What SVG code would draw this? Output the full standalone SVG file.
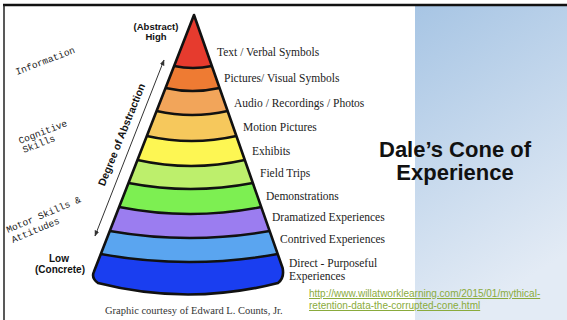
<svg xmlns="http://www.w3.org/2000/svg" width="567" height="320" viewBox="0 0 567 320">
<style>
.lbl{font-family:"Liberation Serif","Times New Roman",serif;font-size:11.5px;fill:#222}
.side{font-family:"Liberation Mono","Courier New",monospace;font-size:9.5px;fill:#222}
.bold{font-family:"Liberation Sans",Arial,sans-serif;font-weight:bold;fill:#111}
.ln{fill:none;stroke:#111;stroke-width:2.4}
.link{font-family:"Liberation Sans",Arial,sans-serif;font-size:10px;fill:#8aab3c;text-decoration:underline}
</style>
<defs>
<linearGradient id="pg" x1="0" y1="0" x2="0.3" y2="1">
<stop offset="0" stop-color="#a7c5e4"/>
<stop offset="1" stop-color="#e3ebf5"/>
</linearGradient>
<clipPath id="cone"><path d="M194,15 L282.6,268 C284,275 282,280 278,283 Q188,306 98,283 C94,280 92,276 93.8,272 Z"/></clipPath>
<marker id="ah" viewBox="0 0 10 10" refX="9" refY="5" markerWidth="6" markerHeight="6" orient="auto-start-reverse">
<path d="M0,1 L10,5 L0,9 Z" fill="#333"/>
</marker>
</defs>
<rect x="0" y="0" width="567" height="320" fill="#fff"/>
<g id="panel">
<rect x="415" y="6" width="152" height="314" fill="url(#pg)"/>
</g>
<g id="frame">
<line x1="3" y1="5" x2="567" y2="5" stroke="#111" stroke-width="2.5"/>
<line x1="4" y1="5" x2="4" y2="320" stroke="#222" stroke-width="1.5"/>
</g>
<g id="cone-bands" clip-path="url(#cone)">
<g id="band-text"><rect x="80" y="10" width="220" height="300" fill="#e63b2e"/></g>
<g id="band-pictures"><path d="M140,66 L174.1,66 Q193,70 211.85,66 L300,66 L300,310 L80,310 L80,66 Z" fill="#ee7b33"/></g>
<g id="band-audio"><path d="M80,88 L165.5,88 Q192.5,94 219.55,88 L300,88 L300,310 L80,310 Z" fill="#f2a55a"/></g>
<g id="band-motion"><path d="M80,111 L156.6,111 Q192.1,119 227.6,111 L300,111 L300,310 L80,310 Z" fill="#f6c85c"/></g>
<g id="band-exhibits"><path d="M80,136 L146.8,136 Q191.6,146 236.35,136 L300,136 L300,310 L80,310 Z" fill="#fdf653"/></g>
<g id="band-field"><path d="M80,160 L137.45,160 Q191.1,172 244.75,160 L300,160 L300,310 L80,310 Z" fill="#bdef6c"/></g>
<g id="band-demo"><path d="M80,183 L128.5,183 Q190.6,195 252.8,183 L300,183 L300,310 L80,310 Z" fill="#7def52"/></g>
<g id="band-dramatized"><path d="M80,207 L119.1,207 Q190.2,221 261.2,207 L300,207 L300,310 L80,310 Z" fill="#9b7df0"/></g>
<g id="band-contrived"><path d="M80,231 L109.8,231 Q189.7,245 269.6,231 L300,231 L300,310 L80,310 Z" fill="#5aa5f0"/></g>
<g id="band-direct"><path d="M80,254 L100.8,254 Q189.2,270 277.65,254 L300,254 L300,310 L80,310 Z" fill="#1a3ef0"/></g>
<path class="ln" d="M174.1,66 Q193,70 211.85,66"/>
<path class="ln" d="M165.5,88 Q192.5,94 219.55,88"/>
<path class="ln" d="M156.6,111 Q192.1,119 227.6,111"/>
<path class="ln" d="M146.8,136 Q191.6,146 236.35,136"/>
<path class="ln" d="M137.45,160 Q191.1,172 244.75,160"/>
<path class="ln" d="M128.5,183 Q190.6,195 252.8,183"/>
<path class="ln" d="M119.1,207 Q190.2,221 261.2,207"/>
<path class="ln" d="M109.8,231 Q189.7,245 269.6,231"/>
<path class="ln" d="M100.8,254 Q189.2,270 277.65,254"/>
</g>
<path id="cone-outline" d="M194,15 L282.6,268 C284,275 282,280 278,283 Q188,306 98,283 C94,280 92,276 93.8,272 Z" fill="none" stroke="#111" stroke-width="2.6" stroke-linejoin="round"/>
<g id="labels">
<text class="lbl" x="217" y="56">Text / Verbal Symbols</text>
<text class="lbl" x="224" y="82">Pictures/ Visual Symbols</text>
<text class="lbl" x="234" y="107">Audio / Recordings / Photos</text>
<text class="lbl" x="243" y="131">Motion Pictures</text>
<text class="lbl" x="252" y="155">Exhibits</text>
<text class="lbl" x="260" y="177">Field Trips</text>
<text class="lbl" x="266" y="200">Demonstrations</text>
<text class="lbl" x="272" y="221">Dramatized Experiences</text>
<text class="lbl" x="280" y="243">Contrived Experiences</text>
<text class="lbl" x="289" y="267">Direct - Purposeful</text>
<text class="lbl" x="289" y="280">Experiences</text>
</g>
<g id="ends">
<text class="bold" x="156" y="30" font-size="9.5" text-anchor="middle">(Abstract)</text>
<text class="bold" x="156" y="40" font-size="9.5" text-anchor="middle">High</text>
<text class="bold" x="59" y="262" font-size="10" text-anchor="middle">Low</text>
<text class="bold" x="60" y="273" font-size="10" text-anchor="middle">(Concrete)</text>
</g>
<g id="side-labels">
<text class="side" transform="translate(17,75) rotate(-21)">Information</text>
<text class="side" transform="translate(20,144) rotate(-21)">Cognitive</text>
<text class="side" transform="translate(24,153) rotate(-21)">Skills</text>
<text class="side" transform="translate(8,233) rotate(-23)">Motor Skills &amp;</text>
<text class="side" transform="translate(13,243) rotate(-23)">Attitudes</text>
</g>
<g id="connectors">
<line x1="95" y1="236" x2="164" y2="60" stroke="#333" stroke-width="1" marker-start="url(#ah)" marker-end="url(#ah)"/>
</g>
<g id="axis-label">
<text class="bold" font-size="10.5" text-anchor="middle" transform="translate(125,136) rotate(-68)">Degree of Abstraction</text>
</g>
<g id="title">
<text class="bold" x="455" y="157" font-size="22" text-anchor="middle">Dale’s Cone of</text>
<text class="bold" x="455" y="180" font-size="22" text-anchor="middle">Experience</text>
</g>
<g id="source">
<text class="link" x="309" y="297">http://www.willatworklearning.com/2015/01/mythical-</text>
<text class="link" x="309" y="309">retention-data-the-corrupted-cone.html</text>
<text x="105" y="314" font-family="Liberation Serif,'Times New Roman',serif" font-size="10.5" fill="#333">Graphic courtesy of Edward L. Counts, Jr.</text>
</g>
</svg>
